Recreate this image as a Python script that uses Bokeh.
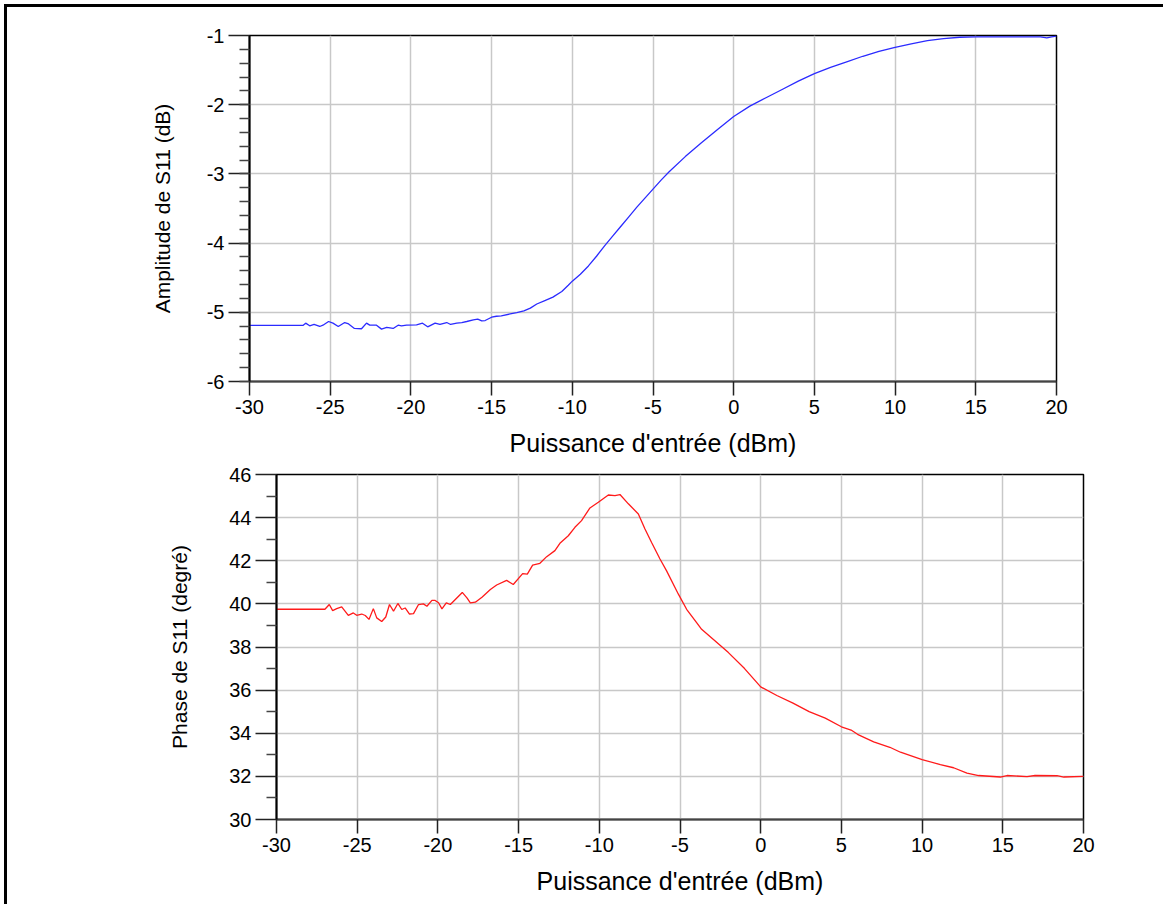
import numpy as np
from bokeh.plotting import figure
from bokeh.layouts import column
from bokeh.models import Range1d, FixedTicker, PrintfTickFormatter
from bokeh.embed import file_html
from bokeh.resources import INLINE

# ---- data ----
x_ticks = [-30, -25, -20, -15, -10, -5, 0, 5, 10, 15, 20]
amp_ticks = [-6, -5, -4, -3, -2, -1]
phase_ticks = [30, 32, 34, 36, 38, 40, 42, 44, 46]

amp_x = [-30, -26.69, -26.52, -26.27, -26.0, -25.65, -25.45, -25.1, -24.83, -24.5,
         -24.1, -23.9, -23.5, -23.06, -22.75, -22.55, -22.13, -21.82, -21.5, -21.1,
         -20.79, -20.58, -20.27, -19.65, -19.28, -18.96, -18.5, -18.2, -17.78, -17.54,
         -17.16, -16.85, -16.54, -16.13, -15.86, -15.61, -15.4, -15.0, -14.7, -14.4,
         -13.85, -13.44, -13.0, -12.6, -12.2, -11.7, -11.2, -10.65, -10.25, -10.0,
         -9.5, -9, -8.5, -8, -7.5, -7, -6.5, -6, -5.5, -5, -4.5, -4, -3, -2, -1, 0,
         1, 2, 3, 4, 5, 6, 7, 8, 9, 10,
         11, 12, 13, 14, 15, 16, 17, 18, 19, 19.4, 19.7, 20]
amp_y = [-5.19, -5.19, -5.157, -5.195, -5.176, -5.205, -5.186, -5.133, -5.157, -5.205,
         -5.148, -5.162, -5.233, -5.238, -5.157, -5.186, -5.186, -5.243, -5.219, -5.233,
         -5.186, -5.195, -5.186, -5.181, -5.157, -5.21, -5.157, -5.176, -5.148, -5.176,
         -5.157, -5.148, -5.133, -5.11, -5.10, -5.124, -5.119, -5.071, -5.057, -5.052,
         -5.024, -5.005, -4.98, -4.94, -4.88, -4.83, -4.78, -4.70, -4.61, -4.55,
         -4.45, -4.33, -4.19, -4.04, -3.90, -3.76, -3.62, -3.48, -3.35, -3.22, -3.09, -2.97,
         -2.75, -2.55, -2.36, -2.17,
         -2.02, -1.90, -1.78, -1.66, -1.55, -1.46, -1.38, -1.30, -1.23, -1.17,
         -1.12, -1.075, -1.045, -1.025, -1.02, -1.02, -1.02, -1.02, -1.02, -1.035, -1.02, -1.01]

phase_x = [-30, -27.0, -26.73, -26.52, -26.27, -25.96, -25.55, -25.24, -25.03, -24.72,
           -24.5, -24.27, -24.0, -23.79, -23.48, -23.23, -23.0, -22.75, -22.48, -22.24,
           -22.03, -21.76, -21.51, -21.2, -20.9, -20.68, -20.37, -20.17, -19.96, -19.75,
           -19.48, -19.23, -18.86, -18.49, -18.2, -17.99, -17.68, -17.27, -16.75, -16.36,
           -15.74, -15.33, -14.75, -14.46, -14.13, -13.68, -13.26, -12.75, -12.44, -11.92,
           -11.51, -11.1, -10.58, -10.06, -9.44, -9.03, -8.72, -8.2, -7.58, -7.17,
           -6.76, -6.24, -5.83, -5.1, -4.59, -3.97, -3.66, -2.5, -2, -1,
           0, 1, 2, 3, 4, 5, 5.6, 6, 7, 8,
           8.66, 10, 11.13, 11.95, 12.78, 13.5, 14.85, 15.26, 16.5, 17.0,
           18.36, 18.78, 20]
phase_y = [39.75, 39.75, 39.97, 39.69, 39.78, 39.86, 39.47, 39.58, 39.47, 39.53,
           39.46, 39.28, 39.78, 39.35, 39.18, 39.39, 39.97, 39.66, 40.02, 39.74,
           39.81, 39.53, 39.55, 39.97, 40.0, 39.89, 40.16, 40.16, 40.05, 39.77,
           40.05, 39.97, 40.25, 40.53, 40.28, 40.05, 40.08, 40.31, 40.67, 40.875,
           41.09, 40.9, 41.4, 41.38, 41.8, 41.88, 42.19, 42.47, 42.81, 43.16,
           43.55, 43.86, 44.45, 44.71, 45.05, 45.02, 45.07, 44.64, 44.17, 43.47,
           42.85, 42.08, 41.53, 40.45, 39.75, 39.13, 38.82, 38.07, 37.74, 37.0,
           36.15, 35.75, 35.4, 35.0, 34.7, 34.3, 34.15, 33.95, 33.6, 33.35,
           33.12, 32.78, 32.55, 32.4, 32.15, 32.04, 31.97, 32.04, 31.99, 32.04,
           32.03, 31.97, 32.0]

FONT = "Liberation Sans"


def make_fig(height, top, bottom, yr, yticks, yminor, ylabel, y_standoff, styles=None):
    p = figure(width=1114, height=height, output_backend="svg", toolbar_location=None,
               x_range=Range1d(-30, 20), y_range=Range1d(*yr),
               min_border_left=242, min_border_right=65,
               min_border_top=top, min_border_bottom=bottom)
    if styles:
        p.styles = styles
    p.outline_line_color = "#000000"
    p.outline_line_width = 1.5
    p.xaxis.ticker = FixedTicker(ticks=x_ticks)
    p.yaxis.ticker = FixedTicker(ticks=yticks, minor_ticks=yminor)
    p.xaxis.formatter = PrintfTickFormatter(format="%d")
    p.yaxis.formatter = PrintfTickFormatter(format="%d")
    for ax in (p.xaxis[0], p.yaxis[0]):
        ax.major_label_text_font = FONT
        ax.major_label_text_font_size = "20px"
        ax.major_label_text_color = "#000000"
        ax.axis_label_text_font = FONT
        ax.axis_label_text_font_style = "normal"
        ax.axis_label_text_color = "#000000"
        ax.axis_line_color = "#000000"
        ax.axis_line_width = 2
        ax.major_tick_line_color = "#222222"
        ax.major_tick_line_width = 1.5
        ax.minor_tick_line_color = "#444444"
        ax.minor_tick_line_width = 1.5
        ax.major_tick_in = 0
        ax.minor_tick_in = 0
    p.xaxis.major_tick_out = 14
    p.xaxis.minor_tick_out = 0
    p.xaxis.major_label_standoff = 4
    p.xaxis.axis_label = "Puissance d'entrée (dBm)"
    p.xaxis.axis_label_text_font_size = "25px"
    p.xaxis.axis_label_standoff = 12
    p.xaxis.axis_line_color = "#444444"
    p.yaxis.major_tick_out = 21
    p.yaxis.minor_tick_out = 10
    p.yaxis.major_label_standoff = 4
    p.yaxis.axis_label = ylabel
    p.yaxis.axis_label_text_font_size = "21px"
    p.yaxis.axis_label_standoff = y_standoff
    p.xgrid.grid_line_color = "#c8c8c8"
    p.ygrid.grid_line_color = "#c8c8c8"
    p.xgrid.grid_line_width = 1.5
    p.ygrid.grid_line_width = 1.5
    return p


p1 = make_fig(453, 28, 79, (-6, -1), amp_ticks,
              list(np.arange(-6, -1, 0.2)), "Amplitude de S11 (dB)", 30)
p1.line(amp_x, amp_y, line_color="#2b2bff", line_width=1.3)

p2 = make_fig(444, 14, 85, (30, 46), phase_ticks,
              list(range(31, 46, 2)), "Phase de S11 (degré)", 35,
              styles={"position": "relative", "left": "27px"})
p2.line(phase_x, phase_y, line_color="#ff1a1a", line_width=1.3)

lay = column(p1, p2, spacing=0,
             styles={"border-left": "3px solid #000", "border-top": "3px solid #000",
                     "margin-left": "4px", "margin-top": "4px",
                     "padding-right": "42px"})

open("out.html", "w").write(file_html(lay, INLINE))
